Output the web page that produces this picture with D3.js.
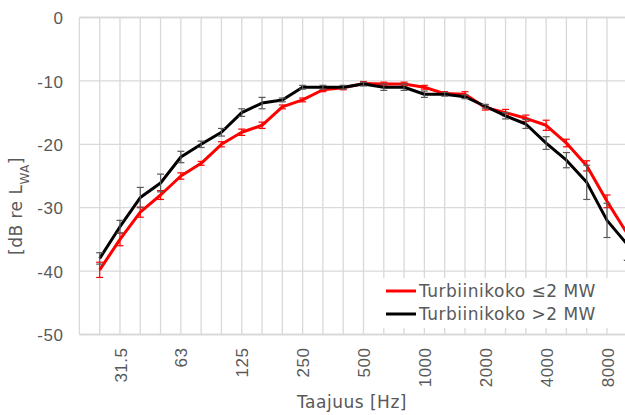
<!DOCTYPE html>
<html>
<head>
<meta charset="utf-8">
<script src="https://cdn.jsdelivr.net/npm/d3@7"></script>
<style>
  html, body { margin: 0; padding: 0; background: #fff; }
  svg { display: block; font-family: "DejaVu Sans", Verdana, sans-serif; }
  svg text { letter-spacing: 0.5px; }
</style>
</head>
<body>
<div id="chart"></div>
<script>
// 1/3-octave bands (20 Hz has no data, it sits on the left axis)
const bands = ["20", "25", "31.5", "40", "50", "63", "80", "100", "125", "160", "200", "250",
  "315", "400", "500", "630", "800", "1000", "1250", "1600", "2000", "2500", "3150",
  "4000", "5000", "6300", "8000", "10000"];
const tickBands = ["31.5", "63", "125", "250", "500", "1000", "2000", "4000", "8000"];
const yTicks = [0, -10, -20, -30, -40, -50];

// Turbiinikoko <=2 MW
const smallVals = [null, -39.8, -35.0, -30.7, -28.0, -25.0, -23.0, -20.0, -18.1, -17.0, -14.1, -13.0,
  -11.4, -11.1, -10.4, -10.5, -10.5, -11.0, -12.0, -12.1, -14.2, -15.0, -15.9,
  -17.0, -19.8, -23.4, -29.0, -34.1];
const smallErr = [null, 1.2, 1.0, 0.8, 0.7, 0.5, 0.3, 0.4, 0.5, 0.5, 0.3, 0.3,
  0.3, 0.3, 0.3, 0.3, 0.3, 0.3, 0.3, 0.4, 0.4, 0.5, 0.5,
  0.8, 0.6, 0.8, 1.0, 1.0];

// Turbiinikoko >2 MW
const largeVals = [null, -38.0, -33.0, -28.4, -26.1, -22.0, -20.0, -18.1, -15.0, -13.5, -13.0, -11.0,
  -11.0, -11.0, -10.5, -11.0, -11.0, -12.1, -12.1, -12.5, -14.0, -15.5, -16.8,
  -19.8, -22.5, -26.0, -32.0, -35.8];
const largeErr = [null, 0.9, 1.0, 1.6, 1.4, 0.9, 0.5, 0.6, 0.6, 0.9, 0.3, 0.3,
  0.3, 0.3, 0.3, 0.5, 0.5, 0.5, 0.3, 0.3, 0.3, 0.5, 0.7,
  1.0, 1.2, 2.7, 2.7, 2.5];

const series = [
  { name: "Turbiinikoko \u22642 MW", vals: smallVals, err: smallErr, color: "#ff0000", errColor: "#ff0000" },
  { name: "Turbiinikoko >2 MW", vals: largeVals, err: largeErr, color: "#000000", errColor: "#595959" }
];

const width = 625, height = 415;
const plotLeft = 79.4, plotRight = 627.3, plotTop = 17.5, plotBottom = 334.5;
const textColor = "#595959";
const gridColor = "#d9d9d9";
const fontSize = "17px";

const svg = d3.select("#chart").append("svg")
  .attr("width", width)
  .attr("height", height);

const x = d3.scalePoint().domain(bands).range([plotLeft, plotRight]);
const y = d3.scaleLinear().domain([-50, 0]).range([plotBottom, plotTop]);

// -------- Gridlines --------
const grid = svg.append("g");
grid.selectAll("line.v")
  .data(bands)
  .join("line")
  .attr("class", "v")
  .attr("x1", d => x(d)).attr("x2", d => x(d))
  .attr("y1", plotTop).attr("y2", plotBottom)
  .attr("stroke", gridColor).attr("stroke-width", 1.3);

grid.selectAll("line.h")
  .data(yTicks)
  .join("line")
  .attr("class", "h")
  .attr("x1", plotLeft).attr("x2", plotRight)
  .attr("y1", d => y(d)).attr("y2", d => y(d))
  .attr("stroke", gridColor)
  .attr("stroke-width", d => (d === 0 || d === -50) ? 2 : 1.3);

// -------- Y axis --------
// plain hyphen for negatives, like the original
const yAxis = svg.append("g")
  .attr("transform", `translate(${plotLeft},0)`)
  .call(d3.axisLeft(y).tickValues(yTicks).tickSize(0).tickPadding(16).tickFormat(d => String(d)));
yAxis.select(".domain").remove();
yAxis.selectAll("text")
  .attr("fill", textColor)
  .style("font-size", fontSize)
  .attr("dy", "0.36em");

// -------- X axis --------
const xAxis = svg.append("g")
  .attr("transform", `translate(0,${plotBottom})`)
  .call(d3.axisBottom(x).tickValues(tickBands).tickSize(0).tickPadding(0));
xAxis.select(".domain").remove();
xAxis.selectAll("text")
  .attr("fill", textColor)
  .style("font-size", fontSize)
  .attr("text-anchor", "end")
  .attr("transform", "rotate(-90)")
  .attr("x", -13)
  .attr("y", 0)
  .attr("dy", "0.36em");

// -------- Axis titles --------
svg.append("text")
  .attr("x", 352).attr("y", 408)
  .attr("text-anchor", "middle")
  .attr("fill", textColor)
  .style("font-size", fontSize)
  .text("Taajuus [Hz]");

const yTitle = svg.append("text")
  .attr("transform", "translate(22,206) rotate(-90)")
  .attr("text-anchor", "middle")
  .attr("fill", textColor)
  .style("font-size", fontSize);
yTitle.append("tspan").text("[dB re L");
yTitle.append("tspan").attr("baseline-shift", "sub").style("font-size", "12px").text("WA");
yTitle.append("tspan").text("]");

// -------- Series --------
const line = d3.line()
  .defined(d => d.v != null)
  .x(d => x(d.band))
  .y(d => y(d.v));

series.forEach(s => {
  const pts = bands.map((b, i) => ({ band: b, v: s.vals[i], e: s.err[i] }))
    .filter(d => d.v != null);

  svg.append("path")
    .datum(pts)
    .attr("fill", "none")
    .attr("stroke", s.color)
    .attr("stroke-width", 3)
    .attr("stroke-linejoin", "round")
    .attr("d", line);

  const eb = svg.append("g")
    .attr("stroke", s.errColor)
    .attr("stroke-width", 1.2);
  eb.selectAll("line.bar")
    .data(pts)
    .join("line")
    .attr("class", "bar")
    .attr("x1", d => x(d.band)).attr("x2", d => x(d.band))
    .attr("y1", d => y(d.v - d.e)).attr("y2", d => y(d.v + d.e));
  eb.selectAll("line.capTop")
    .data(pts)
    .join("line")
    .attr("class", "capTop")
    .attr("x1", d => x(d.band) - 3.5).attr("x2", d => x(d.band) + 3.5)
    .attr("y1", d => y(d.v + d.e)).attr("y2", d => y(d.v + d.e));
  eb.selectAll("line.capBottom")
    .data(pts)
    .join("line")
    .attr("class", "capBottom")
    .attr("x1", d => x(d.band) - 3.5).attr("x2", d => x(d.band) + 3.5)
    .attr("y1", d => y(d.v - d.e)).attr("y2", d => y(d.v - d.e));
});

// -------- Legend --------
const legend = svg.append("g");
legend.append("rect")
  .attr("x", 381).attr("y", 278)
  .attr("width", 232).attr("height", 50)
  .attr("fill", "#fff");

series.forEach((s, i) => {
  const ly = 291 + i * 23;
  legend.append("line")
    .attr("x1", 386).attr("x2", 416)
    .attr("y1", ly).attr("y2", ly)
    .attr("stroke", s.color).attr("stroke-width", 3);
  legend.append("text")
    .attr("x", 419).attr("y", ly)
    .attr("dy", "0.36em")
    .attr("fill", textColor)
    .style("font-size", fontSize)
    .text(s.name);
});
</script>
</body>
</html>
